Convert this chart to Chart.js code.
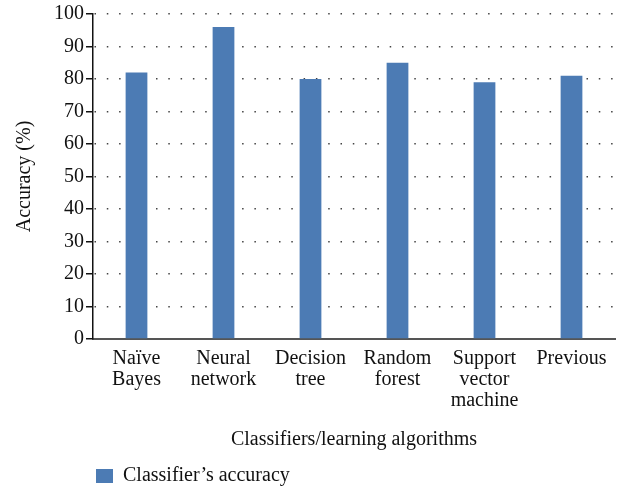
<!DOCTYPE html>
<html>
<head>
<meta charset="utf-8">
<script src="https://cdn.jsdelivr.net/npm/chart.js@4.4.0/dist/chart.umd.min.js"></script>
<style>
  html, body { margin: 0; padding: 0; background: #fff; }
  #wrap { width: 621px; height: 487px; }
</style>
</head>
<body>
<div id="wrap"><canvas id="accChart" width="621" height="487"></canvas></div>
<script>
// Chart values
const categories = [['Naïve', 'Bayes'], ['Neural', 'network'], ['Decision', 'tree'],
  ['Random', 'forest'], ['Support', 'vector', 'machine'], ['Previous']];
const accuracy = [82, 96, 80, 85, 79, 81];
const seriesName = 'Classifier’s accuracy';
const yTicks = [0, 10, 20, 30, 40, 50, 60, 70, 80, 90, 100];

const serif = 'Liberation Serif, Times New Roman, serif';
const barColor = '#4c7bb4';

// nudge the legend right so it sits under the plot like the original
const legendShift = {
  id: 'legendShift',
  afterLayout(chart) {
    chart.legend.left += 81;
  }
};

const ctx = document.getElementById('accChart').getContext('2d');
const accChart = new Chart(ctx, {
  type: 'bar',
  data: {
    labels: categories,
    datasets: [{
      label: seriesName,
      data: accuracy,
      backgroundColor: barColor,
      borderWidth: 0,
      barPercentage: 0.25,
      categoryPercentage: 1
    }]
  },
  options: {
    responsive: false,
    animation: false,
    layout: { padding: { top: 10, right: 6, left: 13, bottom: -9 } },
    plugins: {
      tooltip: { enabled: false },
      legend: {
        position: 'bottom',
        align: 'start',
        labels: {
          boxWidth: 17,
          boxHeight: 14,
          padding: 2,
          color: '#111',
          font: { family: serif, size: 20 }
        }
      }
    },
    scales: {
      x: {
        grid: { display: false, drawTicks: false },
        border: { color: '#555', width: 2 },
        ticks: {
          color: '#111',
          maxRotation: 0,
          autoSkip: false,
          padding: 9,
          font: { family: serif, size: 20, lineHeight: 1.05 }
        },
        title: {
          display: true,
          text: 'Classifiers/learning algorithms',
          color: '#111',
          font: { family: serif, size: 20 },
          padding: { top: 8, bottom: 12 }
        }
      },
      y: {
        min: 0,
        max: 100,
        afterBuildTicks(axis) {
          axis.ticks = yTicks.map(v => ({ value: v }));
        },
        grid: {
          color: '#444',
          lineWidth: 1.5,
          tickLength: 7,
          tickColor: '#111',
          tickWidth: 1.5
        },
        border: { color: '#111', width: 1.5, dash: [1.5, 10.8], dashOffset: -1 },
        ticks: {
          color: '#111',
          padding: 2,
          font: { family: serif, size: 20 }
        },
        title: {
          display: true,
          text: 'Accuracy (%)',
          color: '#111',
          font: { family: serif, size: 20 },
          padding: { top: 0, bottom: 15 }
        }
      }
    }
  },
  plugins: [legendShift]
});
</script>
</body>
</html>
